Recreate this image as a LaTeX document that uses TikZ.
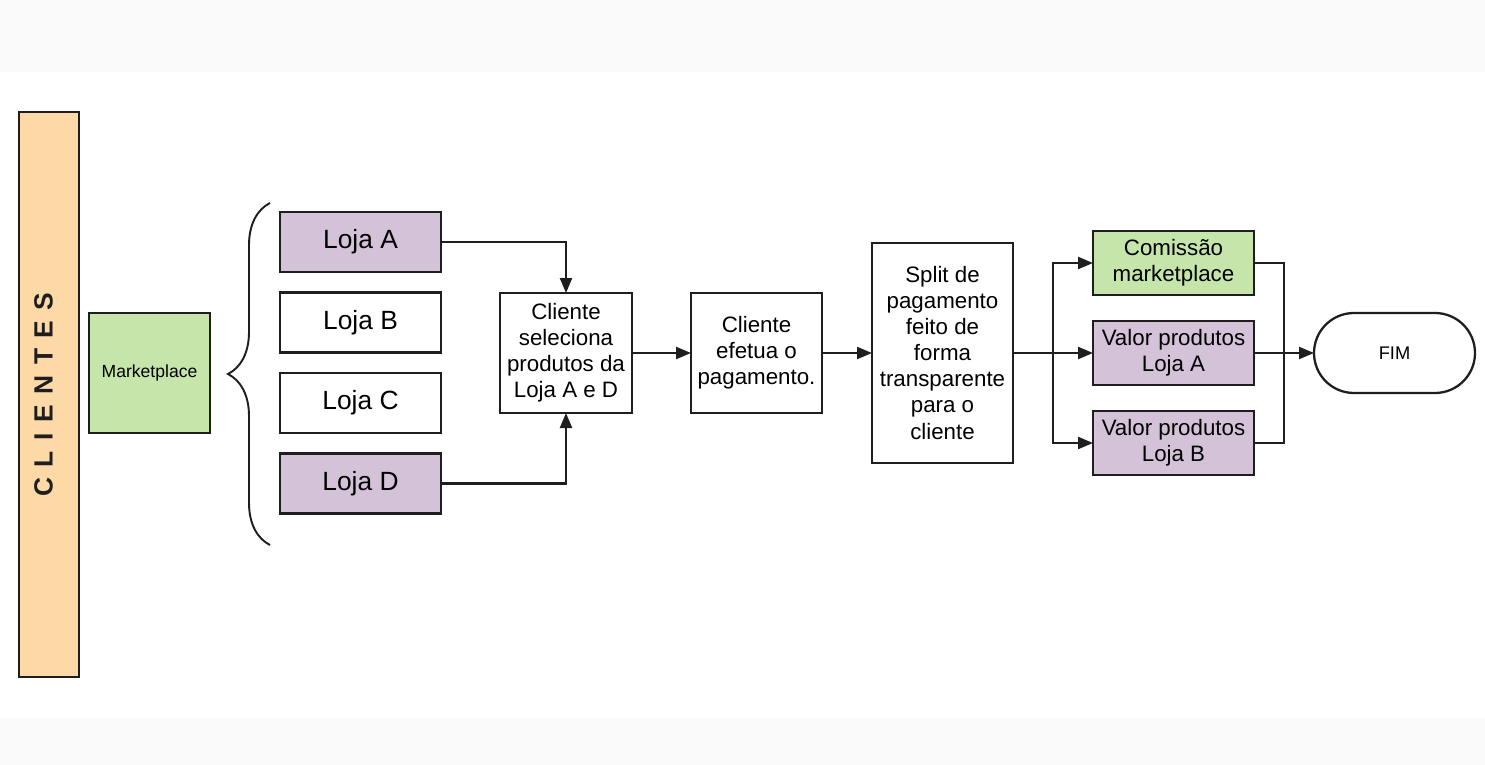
\documentclass[tikz,border=0pt]{standalone}
\usepackage{fontspec}
\setmainfont{Liberation Sans}
\newfontfamily\lanefont[LetterSpace=40]{Liberation Sans}
\usepackage{xcolor}
\usepackage{tikz}
\usetikzlibrary{shapes.geometric, arrows.meta, positioning, calc, decorations.pathreplacing}
\definecolor{mydark}{RGB}{30,30,30}
\definecolor{mypeach}{RGB}{253,217,168}
\definecolor{mygreen}{RGB}{198,229,170}
\definecolor{mylilac}{RGB}{212,194,216}
\definecolor{mygray}{RGB}{250,250,250}
\tikzset{
  box/.style={rectangle, draw=mydark, fill=white, align=center, outer sep=0pt,
    line width=1.3pt, inner sep=2pt, font=\fontsize{12.7}{14.8}\selectfont},
  arrow/.style={-{Triangle[length=0.3cm, width=0.24cm]}, line width=1.3pt, color=mydark},
  line/.style={line width=1.3pt, color=mydark}
}

\begin{document}
\begin{tikzpicture}[node distance=0.41cm and 1.18cm,
  lojabox/.style={box, minimum width=3.22cm, minimum height=1.2cm, font=\fontsize{15}{18}\selectfont},
  stepbox/.style={box, minimum width=2.64cm, minimum height=2.4cm},
  valbox/.style={box, fill=mylilac, minimum width=3.22cm, minimum height=1.28cm}]

  % Canvas and grey bands
  \useasboundingbox (0,0) rectangle (29.7,-15.3);
  \fill[mygray] (0,0) rectangle (29.7,-1.44);
  \fill[mygray] (0,-14.36) rectangle (29.7,-15.3);

  % Lane
  \node[box, fill=mypeach, minimum width=1.2cm, minimum height=11.3cm] (clientes) at (0.98,-7.89) {};
  \node[rotate=90, font=\lanefont\fontsize{15}{18}\selectfont\bfseries, text=mydark] (lanelbl) at (0.87,-7.89) {CLIENTES};

  % Nodes
  \node[box, fill=mygreen, minimum width=2.42cm, minimum height=2.4cm, font=\fontsize{10}{12}\selectfont] (mkt) at (2.99,-7.46) {Marketplace};

  \node[lojabox, fill=mylilac] (lojaA) at (7.21,-4.84) {Loja A};
  \node[lojabox, below=of lojaA] (lojaB) {Loja B};
  \node[lojabox, below=of lojaB] (lojaC) {Loja C};
  \node[lojabox, fill=mylilac, below=of lojaC] (lojaD) {Loja D};

  \node[stepbox] (selec) at (11.32,-7.06) {Cliente\\seleciona\\produtos da\\Loja A e D};
  \node[stepbox, right=1.18cm of selec, minimum width=2.62cm] (pagto) {Cliente\\efetua o\\pagamento.};
  \node[box, right=1.0cm of pagto, minimum width=2.82cm, minimum height=4.4cm] (split) {Split de\\pagamento\\feito de\\forma\\transparente\\para o\\cliente};

  \node[valbox, right=1.6cm of split] (valA) {Valor produtos\\Loja A};
  \node[valbox, fill=mygreen, above=0.52cm of valA] (comis) {Comissão\\marketplace};
  \node[valbox, below=0.52cm of valA] (valB) {Valor produtos\\Loja B};

  \node[box, rounded corners=0.8cm, right=1.2cm of valA, minimum width=3.22cm, minimum height=1.6cm, font=\fontsize{10.4}{12}\selectfont] (fim) {FIM};

  % Brace
  \coordinate (brtop) at (5.4,-4.06);
  \coordinate (brbot) at (5.4,-10.9);
  \draw[line, line width=1.1pt, decorate, decoration={brace, amplitude=0.84cm}] (brbot) -- (brtop);

  % Connections
  \draw[arrow] (lojaA.east) -| (selec.north);
  \draw[arrow] (lojaD.east) -| (selec.south);
  \draw[arrow] (selec) -- (pagto);
  \draw[arrow] (pagto) -- (split);
  \coordinate (fork) at ($(split.east)!0.5!(valA.west)$);
  \draw[arrow] (split) -- (valA);
  \draw[arrow] (fork) |- (comis.west);
  \draw[arrow] (fork) |- (valB.west);
  \coordinate (join) at ($(valA.east)!0.5!(fim.west)$);
  \draw[line] (comis.east) -| (join);
  \draw[line] (valB.east) -| (join);
  \draw[arrow] (valA) -- (fim);

\end{tikzpicture}
\end{document}
